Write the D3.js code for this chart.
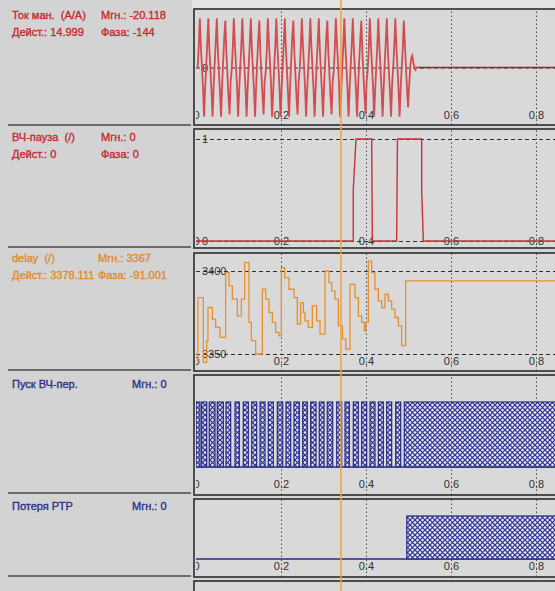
<!doctype html>
<html lang="ru">
<head>
<meta charset="utf-8">
<title>Осциллограмма</title>
<style>
  body { margin: 0; background: #d4d4d4; }
  svg { display: block; font-family: "Liberation Sans", Arial, sans-serif; }
</style>
<script src="https://d3js.org/d3.v7.min.js"></script>
</head>
<body>
<svg id="chart" width="555" height="591"></svg>
<script>
// ---- data ----
var xTicks = [0, 0.2, 0.4, 0.6, 0.8];
var tEnd = 0.85;          // right end of the visible record
var cursorT = 0.341;      // orange cursor

// Ток ман. (A/A): samples every 2.5 ms starting at t = 0.004
var tokStart = 0.004, tokStep = 0.0025;
var tokSamples = [
  0, 9, 21, 9, 0, -9, -21, -9,
  1, 10, 21, 8, -1, -10, -21, -8,
  2, 11, 21, 7, -2, -11, -21, -7,
  3, 13, 20, 6, -3, -13, -20, -6,
  -1, 8, 21, 10, 1, -8, -21, -10,
  0, 9, 21, 9, 0, -9, -21, -9,
  1, 10, 21, 8, -1, -10, -21, -8,
  3, 12, 20, 6, -3, -12, -20, -6,
  -2, 7, 21, 11, 2, -7, -21, -11,
  0, 9, 21, 9, 0, -9, -21, -9,
  1, 11, 21, 8, -1, -11, -21, -8,
  3, 13, 20, 6, -3, -13, -20, -6,
  -1, 8, 21, 10, 1, -8, -21, -10,
  0, 9, 21, 9, 0, -9, -21, -9,
  2, 11, 21, 7, -2, -11, -21, -7,
  3, 13, 20, 6, -3, -13, -20, -6,
  -2, 7, 21, 11, 2, -7, -21, -11,
  0, 9, 21, 9, 0, -9, -21, -9,
  1, 10, 21, 8, -1, -10, -21, -8,
  3, 12, 20, 6, -3, -12, -20, -6,
  -1, 8, 21, 10, 1, -8, -21, -10,
  0, 9, 21, 9, 0, -9, -21, -9,
  2, 11, 21, 7, -2, -11, -21, -7,
  0, 9, 21, 9, 0, -9, -21, -9,
  0, 8, 20, 10, 0, -9, -17, -8, 0, 4, 5, 2, 0, -1, 0, 0
];

// ВЧ-пауза (/)
var pauseT = [0, 0.370, 0.370, 0.3765, 0.4134, 0.4150, 0.4722, 0.4740, 0.531, 0.531, 0.5349, 0.85];
var pauseV = [0, 0, 0.5, 1, 1, 0, 0, 1, 1, 0.5, 0, 0];

// delay (/) – step values
var delayT = [0.002, 0.0047, 0.0173, 0.0251, 0.0282, 0.0384, 0.0463, 0.0565, 0.0698, 0.0776,
  0.0855, 0.0973, 0.1067, 0.1145, 0.1247, 0.1302, 0.1404, 0.1561, 0.1640, 0.1718,
  0.1796, 0.1875, 0.1953, 0.2008, 0.2086, 0.2188, 0.2306, 0.2384, 0.2460, 0.2525,
  0.2565, 0.2643, 0.2737, 0.2839, 0.2918, 0.3035, 0.3129, 0.3192, 0.3270, 0.3349,
  0.3445, 0.3522, 0.3624, 0.3741, 0.3820, 0.3898, 0.3961, 0.3992, 0.4055, 0.4133,
  0.4212, 0.4290, 0.4369, 0.4447, 0.4525, 0.4604, 0.4682, 0.4761, 0.4839, 0.4933];
var delayV = [3346, 3384, 3345, 3358, 3378, 3371, 3366, 3360, 3399, 3391,
  3383, 3373, 3383, 3405, 3369, 3358, 3350, 3389, 3383, 3375,
  3369, 3363, 3361, 3402, 3396, 3389, 3384, 3368, 3381, 3375,
  3370, 3366, 3379, 3370, 3362, 3400, 3393, 3388, 3383, 3367,
  3359, 3353, 3392, 3384, 3373, 3369, 3364, 3369, 3406, 3399,
  3389, 3382, 3378, 3386, 3382, 3377, 3372, 3367, 3355, 3394];

// Пуск ВЧ-пер.: on intervals
var pulseStart = [0, 0.0134, 0.0313, 0.0501, 0.0706, 0.0918, 0.1113, 0.1311, 0.1506, 0.1701,
  0.1913, 0.2118, 0.2306, 0.2511, 0.2699, 0.2901, 0.3089, 0.3311, 0.3506, 0.3701,
  0.3898, 0.4094, 0.4290, 0.4487, 0.4699, 0.4901];
var pulseEnd = [0.0094, 0.0252, 0.0447, 0.0643, 0.0816, 0.1019, 0.1231, 0.1428, 0.1624, 0.1819,
  0.2040, 0.2228, 0.2431, 0.2619, 0.2824, 0.3012, 0.3216, 0.3428, 0.3607, 0.3819,
  0.4016, 0.4212, 0.4408, 0.4604, 0.4816, 0.85];

// Потеря РТР: on interval
var lossStart = [0.496];
var lossEnd = [0.85];

// left-hand captions
var captions = [
  {rows: [["Ток ман.  (A/A)", "Мгн.: -20.118"], ["Дейст.: 14.999", "Фаза: -144"]], color: "#c42a30", y: 19, col2: 101},
  {rows: [["ВЧ-пауза  (/)", "Мгн.: 0"], ["Дейст.: 0", "Фаза: 0"]], color: "#c42a30", y: 141, col2: 101},
  {rows: [["delay  (/)", "Мгн.: 3367"], ["Дейст.: 3378.111", "Фаза: -91.001"]], color: "#e08a2c", y: 262, col2: 98},
  {rows: [["Пуск ВЧ-пер.", "Мгн.: 0"]], color: "#2a2f8a", y: 388, col2: 132},
  {rows: [["Потеря РТР", "Мгн.: 0"]], color: "#2a2f8a", y: 510, col2: 132}
];

// ---- layout ----
var svg = d3.select("#chart");
var x = d3.scaleLinear().domain([0, 1]).range([196, 621]);
var plotLeft = 194, plotRight = 560;

var defs = svg.append("defs");
var pat = defs.append("pattern").attr("id", "hatch")
  .attr("patternUnits", "userSpaceOnUse").attr("width", 5).attr("height", 5);
pat.append("rect").attr("width", 5).attr("height", 5).attr("fill", "#e4e4f2");
pat.append("path").attr("d", "M0,0L5,5M5,0L0,5")
  .attr("stroke", "#2b2f8c").attr("stroke-width", 1.2);

// backgrounds
svg.append("rect").attr("x", 0).attr("y", 0).attr("width", 192).attr("height", 591).attr("fill", "#d3d3d3");
svg.append("rect").attr("x", 192).attr("y", 0).attr("width", 363).attr("height", 9).attr("fill", "#e4e4e4");

// left separators
[125, 247, 370, 493, 576].forEach(function(yy) {
  svg.append("line").attr("x1", 8).attr("x2", 191).attr("y1", yy).attr("y2", yy)
    .attr("stroke", "#4a4a4a").attr("stroke-width", 1.5);
});

captions.forEach(function(c) {
  c.rows.forEach(function(r, i) {
    [[12, r[0]], [c.col2, r[1]]].forEach(function(cell) {
      svg.append("text").attr("x", cell[0]).attr("y", c.y + i * 17).style("white-space", "pre")
        .attr("fill", c.color).attr("stroke", c.color).attr("stroke-width", 0.35)
        .attr("font-size", "11px").text(cell[1]);
    });
  });
});

// panels
var panels = [
  {top: 9, bottom: 125, y: d3.scaleLinear().domain([-24.5, 24.5]).range([125, 10]), yTicks: [0], lab: 6, axis: true},
  {top: 129, bottom: 248, y: d3.scaleLinear().domain([0, 1]).range([241, 139]), yTicks: [0, 1], lab: 3, axis: true},
  {top: 253, bottom: 371, y: d3.scaleLinear().domain([3350, 3400]).range([354, 271]), yTicks: [3350, 3400], lab: 6, axis: true},
  {top: 375, bottom: 495, y: d3.scaleLinear().domain([0, 1]).range([467, 402]), yTicks: [], lab: 7, axis: true},
  {top: 499, bottom: 577, y: d3.scaleLinear().domain([0, 1]).range([559, 516]), yTicks: [], lab: 7, axis: true},
  {top: 581, bottom: 640, y: null, yTicks: [], lab: 7, axis: false}
];

panels.forEach(function(p, i) {
  var h = p.bottom - p.top;
  defs.append("clipPath").attr("id", "clip" + i).append("rect")
    .attr("x", 196).attr("y", p.top).attr("width", plotRight - 196).attr("height", h);
  p.g = svg.append("g");
  p.g.append("rect").attr("x", plotLeft).attr("y", p.top).attr("width", plotRight - plotLeft)
    .attr("height", h).attr("fill", "#d9d9d9");
  p.inner = p.g.append("g").attr("clip-path", "url(#clip" + i + ")");
  if (!p.axis) return;

  // vertical grid + tick labels
  var ax = p.inner.append("g").attr("transform", "translate(0," + p.bottom + ")")
    .call(d3.axisBottom(x).tickValues(xTicks).tickSize(-h).tickFormat(function(d) { return d === 0 ? "0" : d3.format(".1f")(d); }));
  ax.select(".domain").remove();
  ax.selectAll("line").attr("stroke", "#4d4d4d").attr("stroke-dasharray", "1.5,2.5")
    .filter(function(d) { return d === 0; }).remove();
  ax.selectAll("text").attr("y", -p.lab).attr("dy", 0).attr("font-size", "11px")
    .attr("font-family", "Liberation Sans, Arial, sans-serif").attr("fill", "#303030");

  // horizontal grid + value labels
  if (p.yTicks.length) {
    var ay = p.inner.append("g").attr("transform", "translate(196,0)")
      .call(d3.axisLeft(p.y).tickValues(p.yTicks).tickSize(-(plotRight - 196)).tickFormat(d3.format("d")));
    ay.select(".domain").remove();
    ay.selectAll("line").attr("stroke", "#2e2e2e").attr("stroke-dasharray", "4,3");
    ay.selectAll("text").attr("x", 6).attr("text-anchor", "start").attr("dy", "0.35em")
      .attr("font-size", "11px").attr("font-family", "Liberation Sans, Arial, sans-serif").attr("fill", "#303030");
  }
});

// Ток ман.
var p1 = panels[0];
var tokPts = tokSamples.map(function(v, i) { return [tokStart + i * tokStep, v]; });
var lastTok = tokPts[tokPts.length - 1][0];
p1.inner.append("line").attr("x1", x(lastTok)).attr("x2", x(tEnd))
  .attr("y1", p1.y(0)).attr("y2", p1.y(0)).attr("stroke", "#9a2228").attr("stroke-width", 1.3);
p1.inner.append("path").datum(tokPts)
  .attr("d", d3.line().x(function(d) { return x(d[0]); }).y(function(d) { return p1.y(d[1]); }))
  .attr("fill", "none").attr("stroke", "#d24c50").attr("stroke-width", 1.8);

// ВЧ-пауза
var p2 = panels[1];
p2.inner.append("path").datum(d3.zip(pauseT, pauseV))
  .attr("d", d3.line().x(function(d) { return x(d[0]); }).y(function(d) { return p2.y(d[1]); }))
  .attr("fill", "none").attr("stroke", "#c8323a").attr("stroke-width", 1.4);

// delay
var p3 = panels[2];
var delayPts = d3.zip(delayT, delayV);
delayPts.push([tEnd, delayV[delayV.length - 1]]);
p3.inner.append("path").datum(delayPts)
  .attr("d", d3.line().curve(d3.curveStepAfter).x(function(d) { return x(d[0]); }).y(function(d) { return p3.y(d[1]); }))
  .attr("fill", "none").attr("stroke", "#e8902e").attr("stroke-width", 1.3);

// Пуск ВЧ-пер.
var p4 = panels[3];
p4.inner.append("line").attr("x1", x(0)).attr("x2", x(tEnd)).attr("y1", p4.y(0)).attr("y2", p4.y(0))
  .attr("stroke", "#262b85").attr("stroke-width", 1.4);
p4.inner.selectAll("rect.pulse").data(d3.zip(pulseStart, pulseEnd)).enter().append("rect")
  .attr("class", "pulse")
  .attr("x", function(d) { return x(d[0]); })
  .attr("width", function(d) { return x(d[1]) - x(d[0]); })
  .attr("y", p4.y(1)).attr("height", p4.y(0) - p4.y(1))
  .attr("fill", "url(#hatch)").attr("stroke", "#262b85").attr("stroke-width", 1.2);

// Потеря РТР
var p5 = panels[4];
p5.inner.append("line").attr("x1", x(0)).attr("x2", x(tEnd)).attr("y1", p5.y(0)).attr("y2", p5.y(0))
  .attr("stroke", "#262b85").attr("stroke-width", 1.4);
p5.inner.selectAll("rect.loss").data(d3.zip(lossStart, lossEnd)).enter().append("rect")
  .attr("class", "loss")
  .attr("x", function(d) { return x(d[0]); })
  .attr("width", function(d) { return x(d[1]) - x(d[0]); })
  .attr("y", p5.y(1)).attr("height", p5.y(0) - p5.y(1))
  .attr("fill", "url(#hatch)").attr("stroke", "#262b85").attr("stroke-width", 1.2);

// frames on top
panels.forEach(function(p) {
  p.g.append("rect").attr("x", plotLeft).attr("y", p.top).attr("width", plotRight - plotLeft)
    .attr("height", p.bottom - p.top).attr("fill", "none")
    .attr("stroke", "#2b2b2b").attr("stroke-width", 1.6);
});

// cursor
svg.append("line").attr("x1", x(cursorT)).attr("x2", x(cursorT)).attr("y1", 0).attr("y2", 591)
  .attr("stroke", "#f0a040").attr("stroke-width", 1.5);
</script>
</body>
</html>
